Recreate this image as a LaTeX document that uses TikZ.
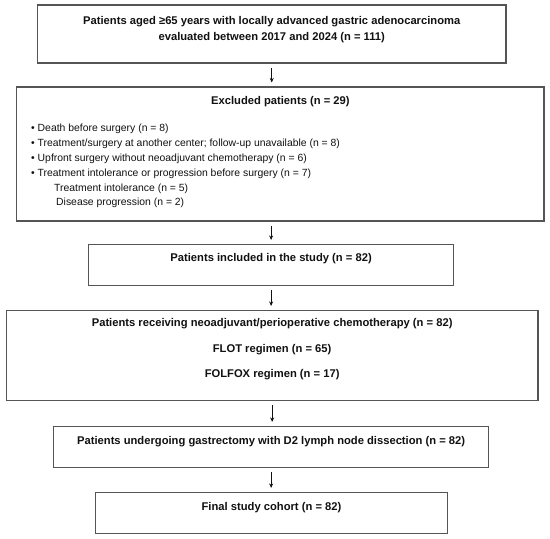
\documentclass[tikz,border=0pt]{standalone}
\usepackage{fontspec}
\setmainfont{Liberation Sans}
\usetikzlibrary{arrows.meta}
\definecolor{boxgray}{HTML}{555555}
\definecolor{txt}{HTML}{111111}
\begin{document}
\begin{tikzpicture}[x=1pt,y=-1pt,
  box/.style={draw=boxgray, line width=1.1pt, inner sep=0pt, fill=white},
  head/.style={font=\fontsize{11.2}{16}\selectfont\bfseries, text=txt, align=center, inner sep=0pt},
  item/.style={font=\fontsize{10.4}{15}\selectfont, text=txt, anchor=base west, inner sep=0pt},
  arr/.style={draw=txt, line width=0.8pt, -{Stealth[length=4.5pt,width=4pt]}, shorten <=4pt, shorten >=4pt}]
\path[use as bounding box, fill=white] (0,0) rectangle (550,539);

\node[box, minimum width=468.5pt, minimum height=58pt] (b1) at (271.75,34) {};
\node[box, minimum width=527.2pt, minimum height=134pt] (b2) at (280.4,154) {};
\node[box, minimum width=364.8pt, minimum height=41pt] (b3) at (271.1,265) {};
\node[box, minimum width=531.7pt, minimum height=90pt] (b4) at (272.15,355.5) {};
\node[box, minimum width=434.9pt, minimum height=41pt] (b5) at (271.15,447) {};
\node[box, minimum width=351.4pt, minimum height=41pt] (b6) at (271.5,513) {};

\node[head] (t1) at (271.75,29.5) {Patients aged ≥65 years with locally advanced gastric adenocarcinoma\\evaluated between 2017 and 2024 (n = 111)};
\node[head] (t2) at (280.4,102) {Excluded patients (n = 29)};
\node[item] (l1) at (31,131) {• Death before surgery (n = 8)};
\node[item] (l2) at (31,146) {• Treatment/surgery at another center; follow-up unavailable (n = 8)};
\node[item] (l3) at (31,161) {• Upfront surgery without neoadjuvant chemotherapy (n = 6)};
\node[item] (l4) at (31,176) {• Treatment intolerance or progression before surgery (n = 7)};
\node[item] (l5) at (54,191) {Treatment intolerance (n = 5)};
\node[item] (l6) at (56,205.5) {Disease progression (n = 2)};
\node[head] (t3) at (271.1,258.5) {Patients included in the study (n = 82)};
\node[head] (t4) at (272.15,324) {Patients receiving neoadjuvant/perioperative chemotherapy (n = 82)};
\node[head] (t4b) at (272.15,350) {FLOT regimen (n = 65)};
\node[head] (t4c) at (272.15,375) {FOLFOX regimen (n = 17)};
\node[head] (t5) at (271.15,442) {Patients undergoing gastrectomy with D2 lymph node dissection (n = 82)};
\node[head] (t6) at (271.5,507.5) {Final study cohort (n = 82)};

\draw[arr] (b1.south) -- (b1.south |- b2.north);
\draw[arr] (b3.north |- b2.south) -- (b3.north);
\draw[arr] (b3.south) -- (b3.south |- b4.north);
\draw[arr] (b4.south) -- (b4.south |- b5.north);
\draw[arr] (b5.south) -- (b5.south |- b6.north);
\end{tikzpicture}
\end{document}
